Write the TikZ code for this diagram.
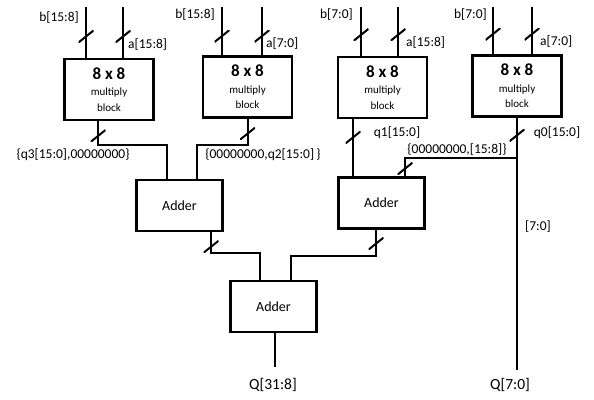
\documentclass[tikz,border=0pt]{standalone}
\usepackage{fontspec}
\setmainfont{Carlito}
\usetikzlibrary{calc,positioning}

\newcommand{\mulfont}{\fontsize{17}{18}\selectfont\bfseries}
\newcommand{\lblfont}{\fontsize{13.5}{15}\selectfont}

\begin{document}
\begin{tikzpicture}[
        x=1pt, y=-1pt,
        every node/.style={align=center},
        wire/.style={line width=2pt, black},
        mult/.style={
            rectangle, draw=black, line width=2.2pt,
            minimum width=89pt, minimum height=61pt,
            inner sep=0pt, font=\fontsize{11}{15.5}\selectfont
        },
        adder/.style={
            rectangle, draw=black, line width=2.2pt,
            minimum width=86pt, minimum height=51pt,
            inner sep=0pt, font=\fontsize{14}{16}\selectfont
        },
        lbl/.style={inner sep=0pt, font=\lblfont},
        outlbl/.style={inner sep=0pt, font=\fontsize{15.5}{17}\selectfont},
        busmark/.style={
            inner sep=0pt, minimum width=15pt, minimum height=12pt,
            path picture={\draw[line width=2pt] (path picture bounding box.south west) -- (path picture bounding box.north east);}
        }
    ]
    \useasboundingbox (0,0) rectangle (594,399);

    % multiply blocks
    \node[mult] (m1) at (109,89.5) {{\mulfont 8 x 8}\\[1pt]multiply\\block};
    \node[mult] (m2) at (247.5,87) {{\mulfont 8 x 8}\\[1pt]multiply\\block};
    \node[mult] (m3) at (382.5,87.5) {{\mulfont 8 x 8}\\[1pt]multiply\\block};
    \node[mult] (m4) at (517,86) {{\mulfont 8 x 8}\\[1pt]multiply\\block};

    % adders
    \node[adder] (add1) at (179.5,205.5) {Adder};
    \node[adder] (add2) at (381.5,203) {Adder};
    \node[adder] (add3) at (273.5,306.5) {Adder};

    % inputs
    \coordinate (m1b) at (86,7);
    \coordinate (m1a) at (123,7);
    \coordinate (m2b) at (222,7);
    \coordinate (m2a) at (262,7);
    \coordinate (m3b) at (361,7);
    \coordinate (m3a) at (398,7);
    \coordinate (m4b) at (493,7);
    \coordinate (m4a) at (532,7);

    \draw[wire] (m1b) -- node[busmark, pos=.58]{} (m1b |- m1.north);
    \draw[wire] (m1a) -- node[busmark, pos=.58]{} (m1a |- m1.north);
    \draw[wire] (m2b) -- node[busmark, pos=.6]{} (m2b |- m2.north);
    \draw[wire] (m2a) -- node[busmark, pos=.6]{} (m2a |- m2.north);
    \draw[wire] (m3b) -- node[busmark, pos=.57]{} (m3b |- m3.north);
    \draw[wire] (m3a) -- node[busmark, pos=.57]{} (m3a |- m3.north);
    \draw[wire] (m4b) -- node[busmark, pos=.57]{} (m4b |- m4.north);
    \draw[wire] (m4a) -- node[busmark, pos=.57]{} (m4a |- m4.north);

    \node[lbl, anchor=east] (m1blbl) at (79,18) {b[15:8]};
    \node[lbl, anchor=west] (m1albl) at (128,45) {a[15:8]};
    \node[lbl, anchor=east] (m2blbl) at (215,15) {b[15:8]};
    \node[lbl, anchor=west] (m2albl) at (266,44) {a[7:0]};
    \node[lbl, anchor=east] (m3blbl) at (353,15) {b[7:0]};
    \node[lbl, anchor=west] (m3albl) at (406,43) {a[15:8]};
    \node[lbl, anchor=east] (m4blbl) at (487,15) {b[7:0]};
    \node[lbl, anchor=west] (m4albl) at (540,42) {a[7:0]};

    % products into the first adder
    \draw[wire] ($(m1.south)+(-11,0)$) -- node[busmark, pos=.62]{} ++(0,24) -| ($(add1.north)+(-12.5,0)$);
    \draw[wire] (m2.south) -- node[busmark, pos=.58]{} ++(0,26) -| ($(add1.north)+(17.5,0)$);

    % products into the second adder
    \coordinate (q1) at ($(m3.south)+(-29.5,0)$);
    \draw[wire] (q1) -- node[busmark, pos=.32]{} (q1 |- add2.north);
    \coordinate (qlo) at (517,370);
    \draw[wire] (m4.south) -- node[busmark, pos=.07]{} (qlo);
    \coordinate (tap) at (517,158);
    \draw[wire] (tap) -| node[busmark, pos=.79]{} ($(add2.north)+(23.5,0)$);

    % sums into the last adder
    \draw[wire] ($(add1.south)+(31.5,0)$) -- node[busmark, pos=.7]{} ++(0,21) -| ($(add3.north)+(-13.5,0)$);
    \draw[wire] ($(add2.south)+(-5.5,0)$) -- node[busmark, pos=.54]{} ++(0,26) -| ($(add3.north)+(17.5,0)$);
    \coordinate (qhi) at (275,367);
    \draw[wire] ($(add3.south)+(1.5,0)$) -- (qhi);

    % bus labels
    \node[lbl] (q3lbl) at (73,155) {\{q3[15:0],00000000\}};
    \node[lbl] (q2lbl) at (263,155) {\{00000000,q2[15:0]\,\}};
    \node[lbl] (q1lbl) at (397,133) {q1[15:0]};
    \node[lbl] (mixlbl) at (457,150) {\{00000000,[15:8]\}};
    \node[lbl] (q0lbl) at (557,133) {q0[15:0]};
    \node[lbl] (lolbl) at (538,227) {[7:0]};
    \node[outlbl] (qhilbl) at (273,385) {Q[31:8]};
    \node[outlbl] (qlolbl) at (510,385) {Q[7:0]};
\end{tikzpicture}
\end{document}
